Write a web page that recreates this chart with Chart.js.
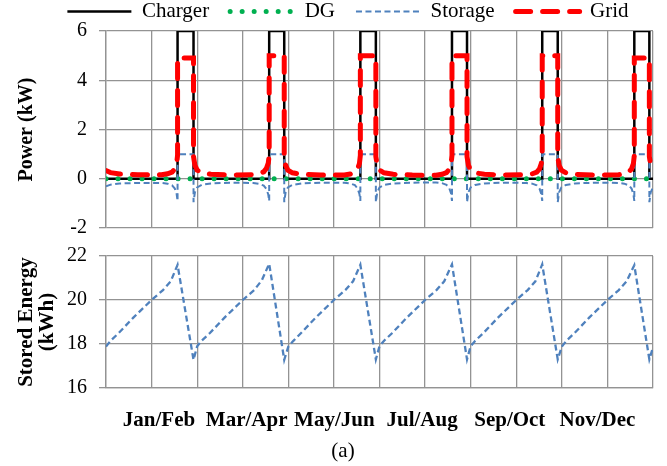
<!DOCTYPE html>
<html>
<head>
<meta charset="utf-8">
<title>Power and stored energy</title>
<script src="https://cdn.jsdelivr.net/npm/chart.js@4.4.1/dist/chart.umd.min.js"></script>
<style>
  body { margin: 0; background: #fff; overflow: hidden; }
  canvas { position: absolute; left: 0; }
  #powerChart { top: 0; }
  #energyChart { top: 232px; }
</style>
</head>
<body>
<canvas id="powerChart" width="667" height="252"></canvas>
<canvas id="energyChart" width="667" height="234"></canvas>
<script>
// time in months, 0 = start of Jan, 12 = end of Dec
const months = [
  0, 0.1, 0.3, 0.7,
  1.22, 1.35, 1.45, 1.51, 1.55, 1.57, 1.57, 1.92, 1.92, 1.95, 2.0, 2.1, 2.3, 2.72,
  3.23, 3.36, 3.46, 3.52, 3.56, 3.58, 3.58, 3.91, 3.91, 3.94, 3.99, 4.09, 4.29, 4.71,
  5.23, 5.36, 5.46, 5.52, 5.56, 5.58, 5.58, 5.92, 5.92, 5.95, 6.0, 6.1, 6.3, 6.72,
  7.24, 7.37, 7.47, 7.53, 7.57, 7.59, 7.59, 7.92, 7.92, 7.95, 8.0, 8.1, 8.3, 8.72,
  9.22, 9.35, 9.45, 9.51, 9.55, 9.57, 9.57, 9.91, 9.91, 9.94, 9.99, 10.09, 10.29, 10.71,
  11.24, 11.37, 11.47, 11.53, 11.57, 11.59, 11.59, 11.92, 11.92, 11.95, 12.0
];

// power (kW)
const charger = [
  0, 0, 0, 0,
  0, 0, 0, 0, 0, 0, 6, 6, 0, 0, 0, 0, 0, 0,
  0, 0, 0, 0, 0, 0, 6, 6, 0, 0, 0, 0, 0, 0,
  0, 0, 0, 0, 0, 0, 6, 6, 0, 0, 0, 0, 0, 0,
  0, 0, 0, 0, 0, 0, 6, 6, 0, 0, 0, 0, 0, 0,
  0, 0, 0, 0, 0, 0, 6, 6, 0, 0, 0, 0, 0, 0,
  0, 0, 0, 0, 0, 0, 6, 6, 0, 0, 0
];
const grid = [
  0.33, 0.25, 0.19, 0.16,
  0.16, 0.2, 0.27, 0.4, 0.62, 0.95, 4.9, 4.9, 0.9, 0.55, 0.35, 0.24, 0.18, 0.15,
  0.16, 0.21, 0.28, 0.42, 0.64, 0.95, 5, 5, 0.9, 0.55, 0.35, 0.24, 0.18, 0.15,
  0.15, 0.19, 0.26, 0.4, 0.62, 0.95, 5, 5, 0.9, 0.55, 0.35, 0.24, 0.18, 0.15,
  0.14, 0.18, 0.25, 0.38, 0.6, 0.95, 5, 5, 0.9, 0.55, 0.35, 0.24, 0.18, 0.15,
  0.16, 0.2, 0.27, 0.4, 0.62, 0.95, 5, 5, 0.9, 0.55, 0.35, 0.24, 0.18, 0.15,
  0.16, 0.2, 0.27, 0.4, 0.62, 0.95, 4.9, 4.9, 0.9, 0.55, 0.35
];
const storage = [
  -0.31, -0.24, -0.19, -0.17,
  -0.17, -0.2, -0.27, -0.4, -0.62, -0.9, 1, 1, -0.95, -0.55, -0.35, -0.25, -0.19, -0.16,
  -0.17, -0.21, -0.28, -0.42, -0.64, -0.9, 1, 1, -0.95, -0.55, -0.35, -0.25, -0.19, -0.16,
  -0.16, -0.19, -0.26, -0.4, -0.62, -0.9, 1, 1, -0.95, -0.55, -0.35, -0.25, -0.19, -0.16,
  -0.15, -0.18, -0.25, -0.38, -0.6, -0.9, 1, 1, -0.95, -0.55, -0.35, -0.25, -0.19, -0.16,
  -0.17, -0.2, -0.27, -0.4, -0.62, -0.9, 1, 1, -0.95, -0.55, -0.35, -0.25, -0.19, -0.16,
  -0.17, -0.2, -0.27, -0.4, -0.62, -0.9, 1, 1, -0.95, -0.55, -0.35
];
const dgMonths = [0, 12];
const dg = [0, 0];

// stored energy (kWh)
const energyMonths = [
  0, 0.1, 0.28, 0.6, 1.0, 1.25, 1.42, 1.57, 1.92,
  2.0, 2.1, 2.28, 2.6, 3.0, 3.25, 3.42, 3.58, 3.91,
  4.0, 4.1, 4.28, 4.6, 5.0, 5.25, 5.42, 5.58, 5.92,
  6.0, 6.1, 6.28, 6.6, 7.0, 7.25, 7.42, 7.59, 7.92,
  8.0, 8.1, 8.28, 8.6, 9.0, 9.25, 9.42, 9.57, 9.91,
  10.0, 10.1, 10.28, 10.6, 11.0, 11.25, 11.42, 11.59, 11.92,
  12.0
];
const storedEnergy = [
  17.88, 18.15, 18.5, 19.2, 20.0, 20.45, 20.85, 21.6, 17.28,
  17.9, 18.15, 18.5, 19.2, 20.0, 20.45, 20.9, 21.65, 17.28,
  17.88, 18.12, 18.5, 19.2, 20.0, 20.45, 20.85, 21.6, 17.3,
  17.9, 18.15, 18.5, 19.2, 20.0, 20.45, 20.85, 21.62, 17.3,
  17.9, 18.15, 18.5, 19.2, 20.0, 20.45, 20.85, 21.62, 17.3,
  17.88, 18.15, 18.5, 19.2, 20.0, 20.45, 20.85, 21.58, 17.3,
  17.85
];

const pairLabels = ['Jan/Feb', 'Mar/Apr', 'May/Jun', 'Jul/Aug', 'Sep/Oct', 'Nov/Dec'];

Chart.defaults.font.family = "'Liberation Serif', 'Times New Roman', serif";
Chart.defaults.color = '#000';

const gridColor = '#939393';
const toPoints = (xs, ys) => xs.map((x, i) => ({ x: x, y: ys[i] }));

// legend samples drawn with the dataset's own line style
const lineLegend = (chart) => chart.data.datasets.map((ds, i) => ({
    text: ds.label,
    datasetIndex: i,
    strokeStyle: ds.borderColor,
    fillStyle: ds.borderColor,
    lineWidth: ds.borderWidth,
    lineDash: ds.borderDash || [],
    lineCap: ds.borderCapStyle || 'butt',
    pointStyle: 'line',
    fontColor: '#000',
    hidden: false
}));

// top panel: power flows
new Chart(document.getElementById('powerChart'), {
    type: 'line',
    data: {
        // drawn last-to-first, so Grid sits on top
        datasets: [
            { label: 'Grid', data: toPoints(months, grid), borderColor: '#ff0000',
              borderWidth: 5, borderDash: [15, 12], borderCapStyle: 'round' },
            { label: 'Storage', data: toPoints(months, storage), borderColor: '#4f81bd',
              borderWidth: 2, borderDash: [6, 3.5] },
            { label: 'DG', data: toPoints(dgMonths, dg), borderColor: '#00b050',
              borderWidth: 5, borderDash: [0.01, 12], borderCapStyle: 'round' },
            { label: 'Charger', data: toPoints(months, charger), borderColor: '#000',
              borderWidth: 2.5 }
        ]
    },
    options: {
        responsive: false,
        animation: false,
        layout: { padding: { left: 43, right: 14, top: -20, bottom: 24 } },
        elements: { point: { radius: 0 }, line: { tension: 0, fill: false } },
        plugins: {
            tooltip: { enabled: false },
            legend: {
                reverse: true,
                maxHeight: 51,
                labels: {
                    generateLabels: lineLegend,
                    usePointStyle: true,
                    pointStyle: 'line',
                    pointStyleWidth: 64,
                    boxHeight: 10,
                    padding: 21,
                    font: { size: 21 }
                }
            }
        },
        scales: {
            x: {
                type: 'linear', min: 0, max: 12,
                ticks: { stepSize: 1, display: false },
                grid: { color: gridColor, lineWidth: 1.3, drawTicks: false },
                border: { display: false }
            },
            y: {
                min: -2, max: 6,
                ticks: { stepSize: 2, padding: 12, font: { size: 20 } },
                grid: { color: gridColor, lineWidth: 1.3, tickLength: 7 },
                border: { color: gridColor, width: 1.3 },
                title: {
                    display: true, text: 'Power (kW)',
                    font: { size: 20, weight: 'bold', lineHeight: 1 },
                    padding: { top: -26, bottom: 0 }
                },
                afterFit: (scale) => { scale.width = 63; }
            }
        }
    }
});

// bottom panel: stored energy
new Chart(document.getElementById('energyChart'), {
    type: 'line',
    data: {
        datasets: [
            { label: 'Stored Energy', data: toPoints(energyMonths, storedEnergy), borderColor: '#4f81bd',
              borderWidth: 2.3, borderDash: [6, 3.5] }
        ]
    },
    options: {
        responsive: false,
        animation: false,
        layout: { padding: { left: 33, right: 14, top: 24, bottom: 0 } },
        elements: { point: { radius: 0 }, line: { tension: 0, fill: false } },
        plugins: {
            tooltip: { enabled: false },
            legend: { display: false },
            title: {
                display: true, position: 'bottom', text: '(a)', color: '#000',
                font: { size: 21, weight: 'normal', lineHeight: 1.2 },
                padding: { top: 5.2, bottom: 2.4 }
            }
        },
        scales: {
            x: {
                type: 'linear', min: 0, max: 12,
                ticks: { stepSize: 1, display: false },
                grid: { color: gridColor, lineWidth: 1.3, drawTicks: false },
                border: { color: gridColor, width: 1.3 }
            },
            // separate axis carrying the two-month labels, spaced as in the source figure
            period: {
                type: 'linear', position: 'bottom', min: -0.104, max: 6.133,
                afterBuildTicks: (scale) => { scale.ticks = pairLabels.map((_, i) => ({ value: i + 0.5 })); },
                ticks: {
                    autoSkip: false, maxRotation: 0, padding: 0,
                    font: { size: 21, weight: 'bold' },
                    callback: (v, i) => pairLabels[i]
                },
                grid: { display: false, tickLength: 20 },
                border: { display: false }
            },
            y: {
                min: 16, max: 22,
                ticks: { stepSize: 2, padding: 12, font: { size: 20 } },
                grid: { color: gridColor, lineWidth: 1.3, tickLength: 7 },
                border: { color: gridColor, width: 1.3 },
                title: {
                    display: true, text: ['Stored Energy', '(kWh)'],
                    font: { size: 21, weight: 'bold', lineHeight: 1 },
                    padding: { top: -16.5, bottom: 0 }
                },
                afterFit: (scale) => { scale.width = 73; }
            }
        }
    }
});
</script>
</body>
</html>
